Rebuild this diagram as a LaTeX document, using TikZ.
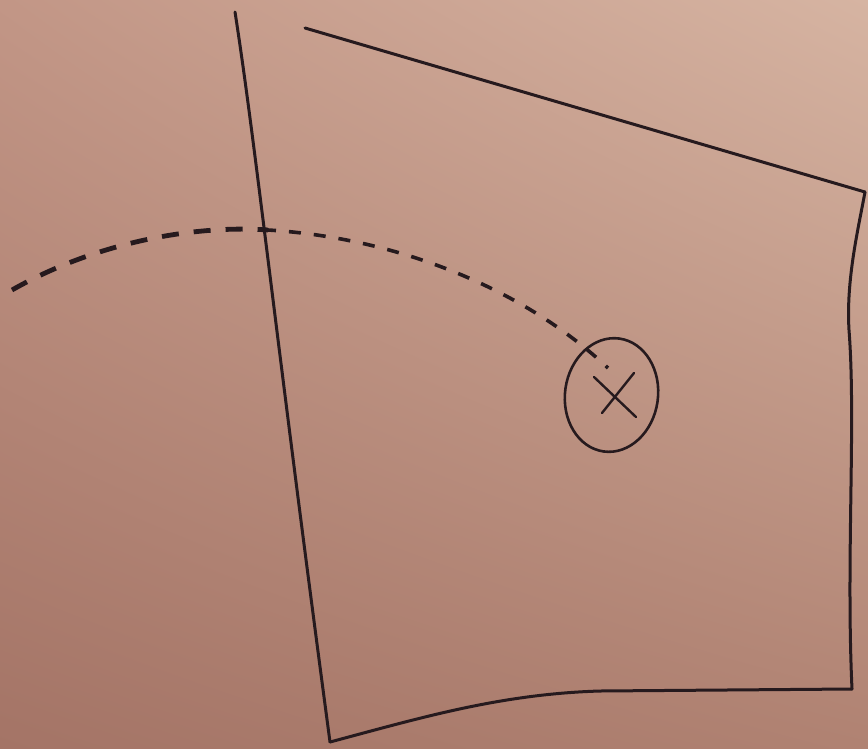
\documentclass[tikz,border=0pt]{standalone}
\usetikzlibrary{shadings,shapes.geometric}
\begin{document}
\begin{tikzpicture}[x=1pt,y=-1pt,
  ink/.style={draw=inkc,line width=3pt,line cap=round,line join=round},
  dashthick/.style={draw=inkc,line width=4.8pt,dash pattern=on 17pt off 15pt},
  dashthin/.style={draw=inkc,line width=3.6pt,dash pattern=on 12pt off 13pt}]
\definecolor{inkc}{RGB}{38,26,30}
\definecolor{ul}{RGB}{194,150,134}
\definecolor{ur}{RGB}{214,180,162}
\definecolor{ll}{RGB}{164,116,102}
\definecolor{lr}{RGB}{176,130,114}
\useasboundingbox (0,0) rectangle (868,748);
\shade[upper left=ul,upper right=ur,lower left=ll,lower right=lr] (0,0) rectangle (868,748);
% coordinates
\coordinate (lt) at (235,12);
\coordinate (lb) at (330,742);
\coordinate (br) at (852,689);
\coordinate (tr) at (865,192);
\coordinate (tl) at (305,28);
\coordinate (dA) at (12,290);
\coordinate (dB) at (268,230);
\coordinate (dC) at (608,368);
% left edge
\draw[ink] (lt) .. controls (255,140) and (275,330) .. (lb);
% bottom edge
\draw[ink] (lb) .. controls (420,718) and (500,694) .. (600,691) -- (br);
% right edge
\draw[ink] (br) .. controls (846,560) and (856,420) .. (849,330) .. controls (846,280) and (858,230) .. (tr);
% top edge
\draw[ink] (tl) -- (tr);
% dashed arc
\draw[dashthick] (dA) .. controls (100,240) and (200,225) .. (dB);
\draw[dashthin,dash phase=4pt] (dB) .. controls (400,238) and (525,290) .. (dC);
% circle with cross
\node[draw=inkc,line width=2.6pt,ellipse,minimum width=93pt,minimum height=114pt,inner sep=0pt,rotate=-8] (ring) at (611.5,395) {};
\coordinate (x1) at (594,377);
\coordinate (x2) at (636,417);
\coordinate (x3) at (634,373);
\coordinate (x4) at (602,413);
\draw[ink,line width=2.4pt] (x1) -- (x2);
\draw[ink,line width=2.4pt] (x3) -- (x4);
\end{tikzpicture}
\end{document}
